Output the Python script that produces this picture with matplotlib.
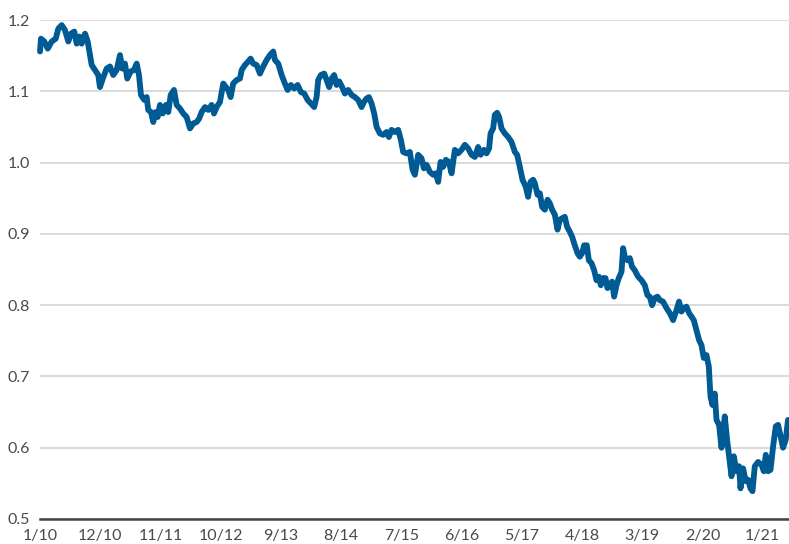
import matplotlib.pyplot as plt

# months since Jan 2010
months = [
    0, 0.18, 0.79, 1.41, 2.14, 2.87, 3.34, 3.96, 4.56, 5.17, 5.66, 6.26, 6.70,
    7.18, 7.61, 8.22, 8.71, 9.13, 9.44, 10.04, 10.64, 10.95, 11.56, 12.18,
    12.78, 13.38, 14.00, 14.61, 15.03, 15.52, 15.94, 16.56, 17.16, 17.66,
    18.08, 18.44, 19.04, 19.48, 19.77, 20.27, 20.69, 21.12, 21.49,
    21.91, 22.40, 23.01, 23.43, 23.87, 24.47, 24.96, 25.56, 26.16, 26.78,
    27.39, 27.99, 28.61, 29.08, 29.52, 30.13, 30.73, 31.35, 31.77, 32.26,
    32.86, 33.47, 33.96, 34.38, 34.82, 35.29, 35.92, 36.52, 36.83, 37.43,
    38.03, 38.47, 38.94, 39.57, 40.17, 40.77, 41.39, 41.99, 42.60, 42.91,
    43.51, 44.13,
    44.73, 45.23, 45.83, 46.43, 47.05, 47.66, 48.26, 48.88, 49.48, 50.08,
    50.52, 50.81, 51.30, 51.91, 52.35, 52.82, 53.26, 53.73, 54.17, 54.65,
    55.19, 55.68, 56.29, 56.91, 57.51, 58.11, 58.73, 59.15, 59.64, 60.07,
    60.56, 61.04, 61.48, 62.08, 62.68, 63.30, 63.72, 64.21, 64.82, 65.42,
    65.91, 66.33, 66.95,
    67.55, 68.05, 68.47, 69.07, 69.69, 70.11, 70.60, 71.21, 71.81, 72.30,
    72.72, 73.16, 73.63, 74.13, 74.68, 75.17, 75.77, 76.37, 76.99, 77.60,
    78.20, 78.82, 79.42, 80.02, 80.46, 81.07, 81.56, 82.03, 82.29, 82.76,
    83.07, 83.49, 83.86, 84.30, 84.90, 85.50, 86.12, 86.73, 87.15, 87.64,
    88.13, 88.73, 89.15, 89.59, 90.07,
    90.38, 90.87, 91.29, 91.71, 92.20, 92.70, 93.12, 93.54, 94.03, 94.52,
    94.94, 95.36, 95.85, 96.27, 96.77, 97.19, 97.68, 98.17, 98.59, 99.01,
    99.38, 99.87, 100.24, 100.73, 101.21, 101.64, 102.06, 102.43, 102.85,
    103.29, 103.65, 104.07, 104.49, 104.86, 105.29, 105.71, 106.21, 106.50,
    106.81, 107.30, 107.72, 108.14, 108.63, 109.24, 109.86, 110.46, 110.95,
    111.37, 111.79, 112.28, 112.78,
    113.20, 113.80, 114.42, 115.02, 115.63, 116.25, 116.72, 117.16, 117.58,
    118.07, 118.55, 118.99, 119.41, 119.90, 120.38, 120.81, 121.23, 121.73,
    122.15, 122.46, 122.82, 123.24, 123.56, 124.03, 124.47, 125.07, 125.49,
    125.86, 126.30, 126.72, 127.21, 127.68, 127.94, 128.41, 128.91, 129.33,
    129.76, 130.13, 130.55, 131.16, 131.78, 132.20, 132.56, 132.98, 133.42,
    133.90, 134.39, 134.81, 135.25, 135.71, 136.20, 136.62,
]

values = [
    1.156, 1.174, 1.170, 1.160, 1.170, 1.174, 1.188, 1.193, 1.186, 1.170,
    1.181, 1.184, 1.167, 1.177, 1.167, 1.181, 1.170, 1.151, 1.137, 1.130,
    1.123, 1.106, 1.120, 1.132, 1.135, 1.123, 1.130, 1.151, 1.132, 1.139,
    1.118, 1.128, 1.130, 1.139, 1.123, 1.095, 1.088, 1.092, 1.074, 1.071,
    1.057, 1.071, 1.064,
    1.081, 1.069, 1.081, 1.071, 1.095, 1.102, 1.081, 1.076, 1.069, 1.064,
    1.048, 1.055, 1.057, 1.062, 1.071, 1.078, 1.074, 1.081, 1.069, 1.078,
    1.085, 1.111, 1.106, 1.102, 1.092, 1.111, 1.116, 1.118, 1.130, 1.137,
    1.142, 1.146, 1.139, 1.137, 1.125, 1.135, 1.144, 1.151, 1.156, 1.144,
    1.139, 1.123,
    1.111, 1.102, 1.109, 1.104, 1.109, 1.099, 1.097, 1.088, 1.083, 1.078,
    1.092, 1.116, 1.123, 1.125, 1.116, 1.106, 1.118, 1.123, 1.109, 1.114,
    1.106, 1.097, 1.102, 1.095, 1.092, 1.088, 1.078, 1.085, 1.090, 1.092,
    1.083, 1.069, 1.050, 1.041, 1.039, 1.043, 1.036, 1.046, 1.043, 1.046,
    1.032, 1.015, 1.013,
    1.015, 0.990, 0.983, 1.011, 1.006, 0.992, 0.997, 0.987, 0.983, 0.985,
    0.973, 1.001, 0.994, 1.004, 1.001, 0.985, 1.018, 1.013, 1.018, 1.025,
    1.020, 1.011, 1.008, 1.022, 1.011, 1.018, 1.013, 1.020, 1.041, 1.048,
    1.067, 1.070, 1.064, 1.048, 1.041, 1.036, 1.029, 1.015, 1.011, 0.994,
    0.976, 0.966, 0.952, 0.973, 0.976,
    0.971, 0.955, 0.957, 0.938, 0.934, 0.948, 0.943, 0.934, 0.927, 0.906,
    0.920, 0.922, 0.924, 0.910, 0.903, 0.896, 0.884, 0.873, 0.868, 0.873,
    0.884, 0.884, 0.863, 0.859, 0.849, 0.835, 0.840, 0.828, 0.838, 0.838,
    0.824, 0.828, 0.833, 0.812, 0.828, 0.838, 0.847, 0.880, 0.868, 0.863,
    0.866, 0.854, 0.849, 0.840, 0.835, 0.828, 0.814, 0.812, 0.800, 0.810,
    0.812,
    0.807, 0.805, 0.796, 0.789, 0.779, 0.793, 0.805, 0.791, 0.796, 0.798,
    0.789, 0.784, 0.779, 0.765, 0.751, 0.744, 0.726, 0.730, 0.714, 0.672,
    0.660, 0.676, 0.639, 0.632, 0.600, 0.644, 0.611, 0.588, 0.560, 0.588,
    0.567, 0.574, 0.543, 0.571, 0.553, 0.555, 0.543, 0.539, 0.574, 0.580,
    0.576, 0.567, 0.590, 0.567, 0.569, 0.602, 0.630, 0.632, 0.616, 0.600,
    0.611, 0.639,
]

tick_months = [0, 11, 22, 33, 44, 55, 66, 77, 88, 99, 110, 121, 132]
tick_labels = ['1/10', '12/10', '11/11', '10/12', '9/13', '8/14', '7/15',
               '6/16', '5/17', '4/18', '3/19', '2/20', '1/21']
y_ticks = [0.5, 0.6, 0.7, 0.8, 0.9, 1.0, 1.1, 1.2]

plt.rcParams['font.family'] = ['Lato', 'DejaVu Sans']

fig = plt.figure(figsize=(7.89, 5.44), dpi=100)
ax = fig.add_axes([0.0507, 0.046, 0.9493, 0.917])

ax.plot(months, values, color='#005a94', lw=4.2, solid_joinstyle='round',
        solid_capstyle='round', clip_on=False, zorder=3)

ax.set_xlim(0, 136.8)
ax.set_ylim(0.5, 1.2)
ax.set_yticks(y_ticks)
ax.set_yticklabels([f'{v:.1f}' for v in y_ticks])
ax.set_xticks(tick_months)
ax.set_xticklabels(tick_labels)

ax.grid(axis='y', color='#d4d4d4', lw=1.2)
ax.set_axisbelow(True)
for s in ['top', 'right', 'left']:
    ax.spines[s].set_visible(False)
ax.spines['bottom'].set_color('#444444')
ax.spines['bottom'].set_linewidth(1.8)
ax.spines['bottom'].set_zorder(4)
ax.tick_params(axis='both', length=0, labelsize=11.5, labelcolor='#4a4a4a')
ax.tick_params(axis='y', pad=7)
ax.tick_params(axis='x', pad=7)

plt.savefig('out.png', dpi=100)
